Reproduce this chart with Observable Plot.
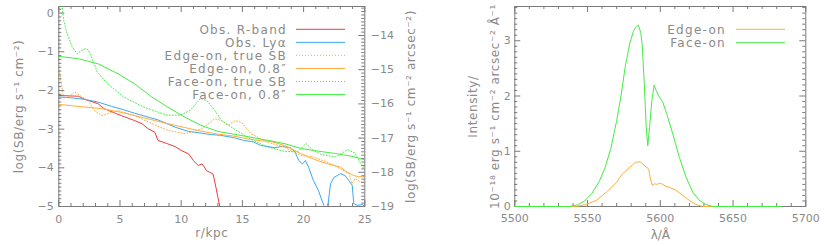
<!DOCTYPE html>
<html><head><meta charset="utf-8">
<script src="https://cdn.jsdelivr.net/npm/d3@7"></script>
<script src="https://cdn.jsdelivr.net/npm/@observablehq/plot@0.6"></script>
<style>
html,body{margin:0;padding:0;background:#fff;}
#wrap{position:relative;width:830px;height:246px;overflow:hidden;background:#fff;}
#left{position:absolute;left:0;top:0;}
#right{position:absolute;left:415px;top:0;}
#legend{position:absolute;left:0;top:0;pointer-events:none;}
</style></head><body>
<div id="wrap"><div id="left"></div><div id="right"></div><svg id="legend" width="830" height="246"></svg></div>
<script>
// ---------- Left panel data: log(SB) vs r/kpc ----------
const rRband = [0,1.6,2.1,3.2,3.7,4.7,5.1,6.2,6.8,7.3,7.85,8.1,8.9,9.5,10,10.6,11,11.25,11.4,11.7,11.9,12.05,12.3,12.6,12.75,13,13.16,13.3];
const sbRband = [-2.13,-2.15,-2.23,-2.34,-2.47,-2.60,-2.65,-2.78,-2.86,-2.99,-3.08,-3.29,-3.38,-3.45,-3.55,-3.64,-3.81,-3.90,-3.94,-3.90,-3.98,-4.07,-4.11,-4.16,-4.37,-4.76,-5.02,-5.3];

const rLya = [0,1.0,2.1,3.2,4.3,5.3,6.2,7.2,8.1,9.0,9.5,10.6,11.6,12.4,13.2,14.3,15.1,15.9,16.5,17.1,17.6,18.25,18.9,19.3,19.6,19.9,20.15,20.4,20.8,21.2,21.65,21.9,22.2,22.5,22.75,23.0,23.4,23.7,23.97,24.1,24.4,24.8,25];
const sbLya = [-2.17,-2.19,-2.23,-2.30,-2.41,-2.50,-2.59,-2.68,-2.76,-2.88,-2.95,-3.06,-3.10,-3.14,-3.16,-3.22,-3.29,-3.33,-3.42,-3.45,-3.48,-3.45,-3.48,-3.59,-3.81,-3.90,-3.81,-3.98,-4.33,-4.58,-4.97,-5.2,-4.41,-4.24,-4.20,-4.15,-4.20,-4.33,-4.45,-4.93,-4.97,-4.95,-5.0];

const rEdgeTrue = [0,0.15,0.4,0.76,1.3,1.7,2.4,2.9,3.5,4.0,4.85,6.2,7.6,8.9,10.3,11.7,12.75,13.3,13.85,14.4,14.9,15.7,17.0,18.4,19.75,20.8,21.9,23.0,23.7,23.97,24.2,24.65,25];
const sbEdgeTrue = [-1.4,-1.7,-2.2,-2.17,-2.04,-2.13,-2.26,-2.52,-2.65,-2.60,-2.52,-2.65,-2.86,-3.03,-3.12,-2.99,-2.73,-2.78,-2.90,-2.78,-2.82,-3.12,-3.33,-3.46,-3.68,-3.72,-3.85,-4.02,-4.15,-4.41,-4.28,-4.37,-4.33];

const rEdge08 = [0,1.5,3.5,5,6.2,7.5,8.9,10.3,11.6,13,14.3,15.4,16.2,16.8,17.3,17.8,18.4,19.1,19.75,20.4,21.1,21.8,22.5,23.0,23.6,24.1,24.5,25];
const sbEdge08 = [-2.36,-2.41,-2.47,-2.56,-2.65,-2.75,-2.86,-2.96,-3.05,-3.13,-3.18,-3.25,-3.29,-3.31,-3.32,-3.36,-3.42,-3.52,-3.63,-3.72,-3.81,-3.88,-3.94,-3.98,-4.12,-4.20,-4.23,-4.23];

const rFaceTrue = [0,0.28,0.4,0.68,1.1,1.5,1.9,2.18,2.4,2.73,3.14,3.95,5.3,6.95,8.86,9.94,10.76,11.57,12.1,12.75,13.3,14.3,15.66,17.0,18.4,19.5,20.2,20.8,21.5,22.6,23.6,24.2,24.8,25];
const sbFaceTrue = [0.5,0.15,-0.19,-0.53,-0.88,-1.05,-0.96,-0.92,-0.95,-1.18,-1.52,-1.82,-2.17,-2.43,-2.64,-2.64,-2.51,-2.21,-2.26,-2.52,-2.78,-2.99,-3.25,-3.46,-3.57,-3.59,-3.37,-3.55,-3.66,-3.72,-3.53,-3.62,-3.98,-3.98];

const rFace08 = [0,1.6,3.2,4.85,6.2,7.6,8.9,10.3,11.6,13,14.3,15.7,17.1,18.5,19.8,21.2,22.6,23.9,25];
const sbFace08 = [-1.12,-1.18,-1.31,-1.57,-1.83,-2.17,-2.43,-2.69,-2.90,-3.06,-3.13,-3.21,-3.29,-3.38,-3.50,-3.57,-3.63,-3.70,-3.79];

const legendLeft = ["Obs. R-band","Obs. Ly\u03b1","Edge-on, true SB","Edge-on, 0.8\u2033","Face-on, true SB","Face-on, 0.8\u2033"];

const rTicks = [0,5,10,15,20,25];
const sbTicks = [-5,-4,-3,-2,-1,0];
const sbArcTicks = [-19,-18,-17,-16,-15,-14];

// ---------- Right panel data: Intensity vs wavelength ----------
const lamFace = [5500,5538,5543,5548,5553,5558,5562,5566,5570,5573,5576,5579,5581.5,5583.5,5585,5586.5,5587.5,5589,5590.3,5591.4,5592.6,5594.2,5595.8,5597.1,5599.4,5601.7,5604.5,5608.6,5613.1,5617.7,5622.3,5626.9,5631.4,5636,5683];
const intFace = [0,0,0.03,0.1,0.24,0.45,0.7,1.05,1.55,2.0,2.55,2.95,3.17,3.26,3.28,3.15,2.95,2.22,1.45,1.1,1.43,1.92,2.2,2.1,1.98,1.89,1.67,1.31,0.89,0.53,0.26,0.11,0.036,0,0];

const lamEdge = [5500,5542,5549,5556,5563,5570,5574,5579,5583,5586,5588,5590,5592,5593,5594.5,5596,5597.6,5599.4,5601,5603.5,5606,5611,5615.4,5620,5624.6,5629,5683];
const intEdge = [0,0,0.036,0.11,0.26,0.44,0.59,0.71,0.80,0.81,0.77,0.72,0.68,0.53,0.38,0.41,0.40,0.42,0.41,0.37,0.35,0.29,0.20,0.11,0.036,0,0];

const legendRight = ["Edge-on","Face-on"];
const lamTicks = [5500,5550,5600,5650,5700];
const intTicks = [0,1,2,3];

// ---------- styling ----------
const FONT = "DejaVu Sans";
const GREY = "#8a8a8a";
const AX = "#7a7a7a";
const RED = "#f03a3a", BLUE = "#3aa8f2", ORANGE = "#ffad3a", GREEN = "#44ec44";
const DOT = "1,2";
const TITLE = 12;

const zip = (xs, ys, kx, ky) => xs.map((x, i) => ({[kx]: x, [ky]: ys[i]}));
const minus = d => (d < 0 ? "\u2212" : "") + Math.abs(d);

// ---------- left plot ----------
const H = 246, mT = 6, mB = 40;
const fh = H - mT - mB;
const mL1 = 58.3, mR1 = 415 - 364.3;
const fw1 = 415 - mL1 - mR1;
const yDom = [-5, 0.17];
// secondary axis (per arcsec^2) mapped onto the primary y scale
const toLeft = R => -5 + (R + 19) * 0.884;

const rMinor = d3.range(0, 26).filter(k => k % 5 !== 0);
const sbMinor = d3.range(-50, 2).filter(k => k % 10 !== 0).map(k => k / 10).filter(v => v <= yDom[1]);
const arcMinor = d3.range(-190, -130).filter(k => k % 10 !== 0).map(k => k / 10).filter(R => toLeft(R) <= yDom[1] && toLeft(R) >= yDom[0]);

const leftPlot = Plot.plot({
  width: 415, height: H,
  marginLeft: mL1, marginRight: mR1, marginTop: mT, marginBottom: mB,
  x: {domain: [0, 25]},
  y: {domain: yDom},
  style: {fontFamily: FONT, fontSize: "11px", color: GREY, background: "transparent", overflow: "visible"},
  marks: [
    Plot.frame({stroke: AX}),
    Plot.line(zip(rRband, sbRband, "r", "v"), {x: "r", y: "v", stroke: RED, strokeWidth: 1, clip: true}),
    Plot.line(zip(rLya, sbLya, "r", "v"), {x: "r", y: "v", stroke: BLUE, strokeWidth: 1, clip: true}),
    Plot.line(zip(rEdgeTrue, sbEdgeTrue, "r", "v"), {x: "r", y: "v", stroke: ORANGE, strokeWidth: 1, strokeDasharray: DOT, clip: true}),
    Plot.line(zip(rEdge08, sbEdge08, "r", "v"), {x: "r", y: "v", stroke: ORANGE, strokeWidth: 1, clip: true}),
    Plot.line(zip(rFaceTrue, sbFaceTrue, "r", "v"), {x: "r", y: "v", stroke: GREEN, strokeWidth: 1, strokeDasharray: DOT, clip: true}),
    Plot.line(zip(rFace08, sbFace08, "r", "v"), {x: "r", y: "v", stroke: GREEN, strokeWidth: 1, clip: true}),
    // inward ticks
    Plot.tickX(rTicks, {x: d => d, stroke: AX, insetTop: fh - 6}),
    Plot.tickX(rTicks, {x: d => d, stroke: AX, insetBottom: fh - 6}),
    Plot.tickX(rMinor, {x: d => d, stroke: AX, insetTop: fh - 3}),
    Plot.tickX(rMinor, {x: d => d, stroke: AX, insetBottom: fh - 3}),
    Plot.tickY(sbTicks, {y: d => d, stroke: AX, insetRight: fw1 - 6}),
    Plot.tickY(sbMinor, {y: d => d, stroke: AX, insetRight: fw1 - 3}),
    Plot.tickY(sbArcTicks, {y: toLeft, stroke: AX, insetLeft: fw1 - 6}),
    Plot.tickY(arcMinor, {y: toLeft, stroke: AX, insetLeft: fw1 - 3}),
    Plot.axisX({ticks: rTicks, tickSize: 0, tickPadding: 9, label: null, tickFormat: d => String(d), fill: GREY}),
    Plot.axisY({ticks: sbTicks, tickSize: 0, tickPadding: 5, label: null, tickFormat: minus, fill: GREY}),
    Plot.text(sbArcTicks, {y: toLeft, frameAnchor: "right", dx: 6, textAnchor: "start", text: minus, fill: GREY, fontSize: 11}),
    Plot.text(["r/kpc"], {frameAnchor: "bottom", dy: 27, textAnchor: "middle", lineAnchor: "middle", fill: GREY, fontSize: TITLE}),
    Plot.text(["log(SB/erg s\u207b\u00b9 cm\u207b\u00b2)"], {frameAnchor: "left", dx: -40, rotate: -90, textAnchor: "middle", lineAnchor: "middle", fill: GREY, fontSize: TITLE}),
    Plot.text(["log(SB/erg s\u207b\u00b9 cm\u207b\u00b2 arcsec\u207b\u00b2)"], {frameAnchor: "right", dx: 46, rotate: -90, textAnchor: "middle", lineAnchor: "middle", fill: GREY, fontSize: TITLE})
  ]
});
document.getElementById("left").appendChild(leftPlot);

// ---------- right plot ----------
const mL2 = 514.3 - 415, mR2 = 830 - 805.3;
const fw2 = 415 - mL2 - mR2;
const lamMinor = d3.range(5500, 5701, 10).filter(v => v % 50 !== 0);
const intMinor = d3.range(0, 37).filter(k => k % 10 !== 0).map(k => k / 10);

const rightPlot = Plot.plot({
  width: 415, height: H,
  marginLeft: mL2, marginRight: mR2, marginTop: mT, marginBottom: mB,
  x: {domain: [5500, 5700]},
  y: {domain: [0, 3.62]},
  style: {fontFamily: FONT, fontSize: "11px", color: GREY, background: "transparent", overflow: "visible"},
  marks: [
    Plot.frame({stroke: AX}),
    Plot.tickX(lamTicks, {x: d => d, stroke: AX, insetTop: fh - 6}),
    Plot.tickX(lamTicks, {x: d => d, stroke: AX, insetBottom: fh - 6}),
    Plot.tickX(lamMinor, {x: d => d, stroke: AX, insetTop: fh - 3}),
    Plot.tickX(lamMinor, {x: d => d, stroke: AX, insetBottom: fh - 3}),
    Plot.tickY(intTicks, {y: d => d, stroke: AX, insetRight: fw2 - 6}),
    Plot.tickY(intTicks, {y: d => d, stroke: AX, insetLeft: fw2 - 6}),
    Plot.tickY(intMinor, {y: d => d, stroke: AX, insetRight: fw2 - 3}),
    Plot.tickY(intMinor, {y: d => d, stroke: AX, insetLeft: fw2 - 3}),
    Plot.line(zip(lamEdge, intEdge, "l", "i"), {x: "l", y: "i", stroke: ORANGE, strokeWidth: 1}),
    Plot.line(zip(lamFace, intFace, "l", "i"), {x: "l", y: "i", stroke: GREEN, strokeWidth: 1}),
    Plot.axisX({ticks: lamTicks, tickSize: 0, tickPadding: 8, label: null, tickFormat: d => String(d), fill: GREY}),
    Plot.axisY({ticks: intTicks, tickSize: 0, tickPadding: 4, label: null, tickFormat: d => String(d), fill: GREY}),
    Plot.text(["\u03bb/\u00c5"], {frameAnchor: "bottom", dy: 29, textAnchor: "middle", lineAnchor: "middle", fill: GREY, fontSize: TITLE}),
    Plot.text(["Intensity/\n10\u207b\u00b9\u2078 erg s\u207b\u00b9 cm\u207b\u00b2 arcsec\u207b\u00b2 \u00c5\u207b\u00b9"], {frameAnchor: "left", dx: -34, rotate: -90, textAnchor: "middle", lineAnchor: "middle", lineHeight: 1.9, fill: GREY, fontSize: TITLE})
  ]
});
document.getElementById("right").appendChild(rightPlot);

// letter spacing for the titles (wide plotting font look)
for (const p of [leftPlot, rightPlot]) {
  d3.select(p).selectAll('g[aria-label="text"] text').filter(function() { return /[a-z]/i.test(this.textContent); })
    .attr("letter-spacing", 0.6);
}

// ---------- legends ----------
const leg = d3.select("#legend");
const leftStyles = [[RED, null], [BLUE, null], [ORANGE, DOT], [ORANGE, null], [GREEN, DOT], [GREEN, null]];
function drawLegend(labels, styles, xText, x1, x2, y0, dy) {
  labels.forEach((lab, i) => {
    const y = y0 + i * dy;
    leg.append("text").attr("x", xText).attr("y", y + 4.3).attr("text-anchor", "end")
      .attr("font-family", FONT).attr("font-size", TITLE).attr("letter-spacing", 1.3).attr("fill", GREY).text(lab);
    const ln = leg.append("line").attr("x1", x1).attr("x2", x2).attr("y1", y).attr("y2", y)
      .attr("stroke", styles[i][0]).attr("stroke-width", 1);
    if (styles[i][1]) ln.attr("stroke-dasharray", styles[i][1]);
  });
}
drawLegend(legendLeft, leftStyles, 287, 296, 345, 29.3, 13.05);
drawLegend(legendRight, [[ORANGE, null], [GREEN, null]], 726, 736, 785, 29.3, 13.4);
</script></body></html>
